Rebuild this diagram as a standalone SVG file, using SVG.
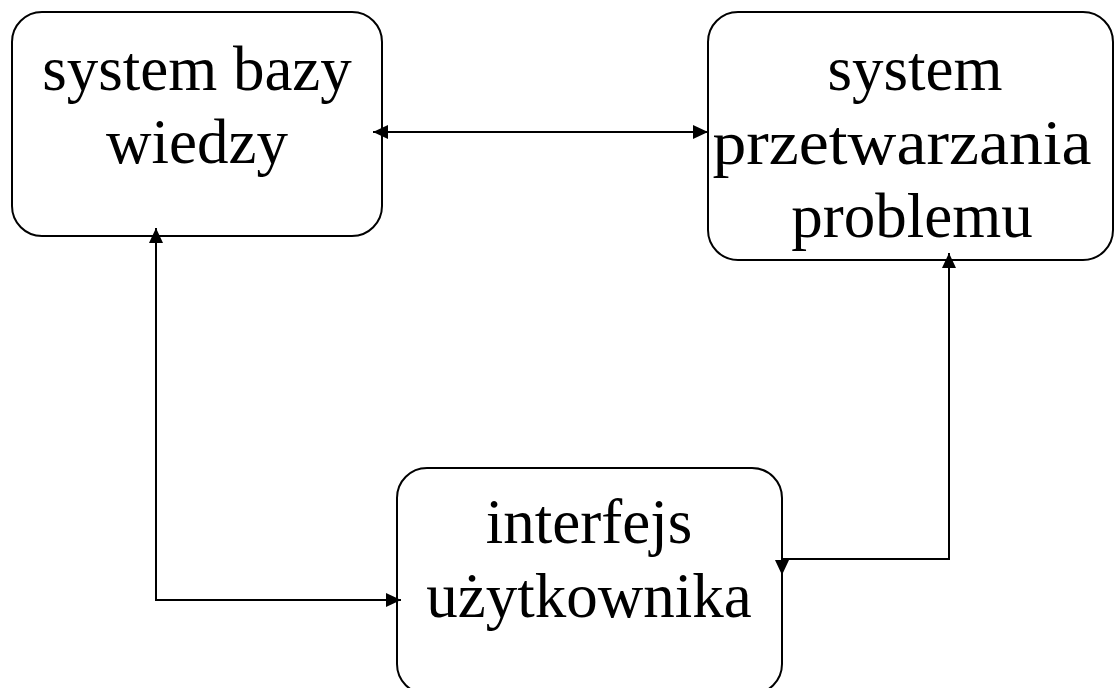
<svg xmlns="http://www.w3.org/2000/svg" width="1114" height="688" viewBox="0 0 1114 688">
<style>
.box{fill:#fff;stroke:#000;stroke-width:2}
.lbl{font-family:"Liberation Serif","Times New Roman",serif;font-size:63px;fill:#000;text-anchor:middle}
.con{fill:none;stroke:#000;stroke-width:2}
</style>
<defs>
<marker id="ah" markerUnits="userSpaceOnUse" markerWidth="15" markerHeight="14" refX="15" refY="7" orient="auto-start-reverse" viewBox="0 0 15 14">
<path d="M0,0 L15,7 L0,14 z" fill="#000"/>
</marker>
</defs>
<rect width="1114" height="688" fill="#fff"/>
<g id="node-baza">
<rect class="box" x="12" y="12" width="370" height="224" rx="30" ry="30"/>
<text class="lbl" x="197" y="90">system bazy</text>
<text class="lbl" x="197" y="163">wiedzy</text>
</g>
<g id="node-przetwarzanie">
<rect class="box" x="708" y="12" width="405" height="248" rx="30" ry="30"/>
<text class="lbl" x="915" y="90">system</text>
<text class="lbl" x="902" y="164" textLength="379" lengthAdjust="spacingAndGlyphs">przetwarzania</text>
<text class="lbl" x="912" y="237">problemu</text>
</g>
<g id="node-interfejs">
<rect class="box" x="397" y="468" width="385" height="226" rx="30" ry="30"/>
<text class="lbl" x="589" y="543">interfejs</text>
<text class="lbl" x="589" y="617">użytkownika</text>
</g>
<g id="connectors">
<path class="con" d="M373,132 H708" marker-start="url(#ah)" marker-end="url(#ah)"/>
<path class="con" d="M156,228 V600 H401" marker-start="url(#ah)" marker-end="url(#ah)"/>
<path class="con" d="M949,253 V559 H782 V575" marker-start="url(#ah)" marker-end="url(#ah)"/>
</g>
</svg>
